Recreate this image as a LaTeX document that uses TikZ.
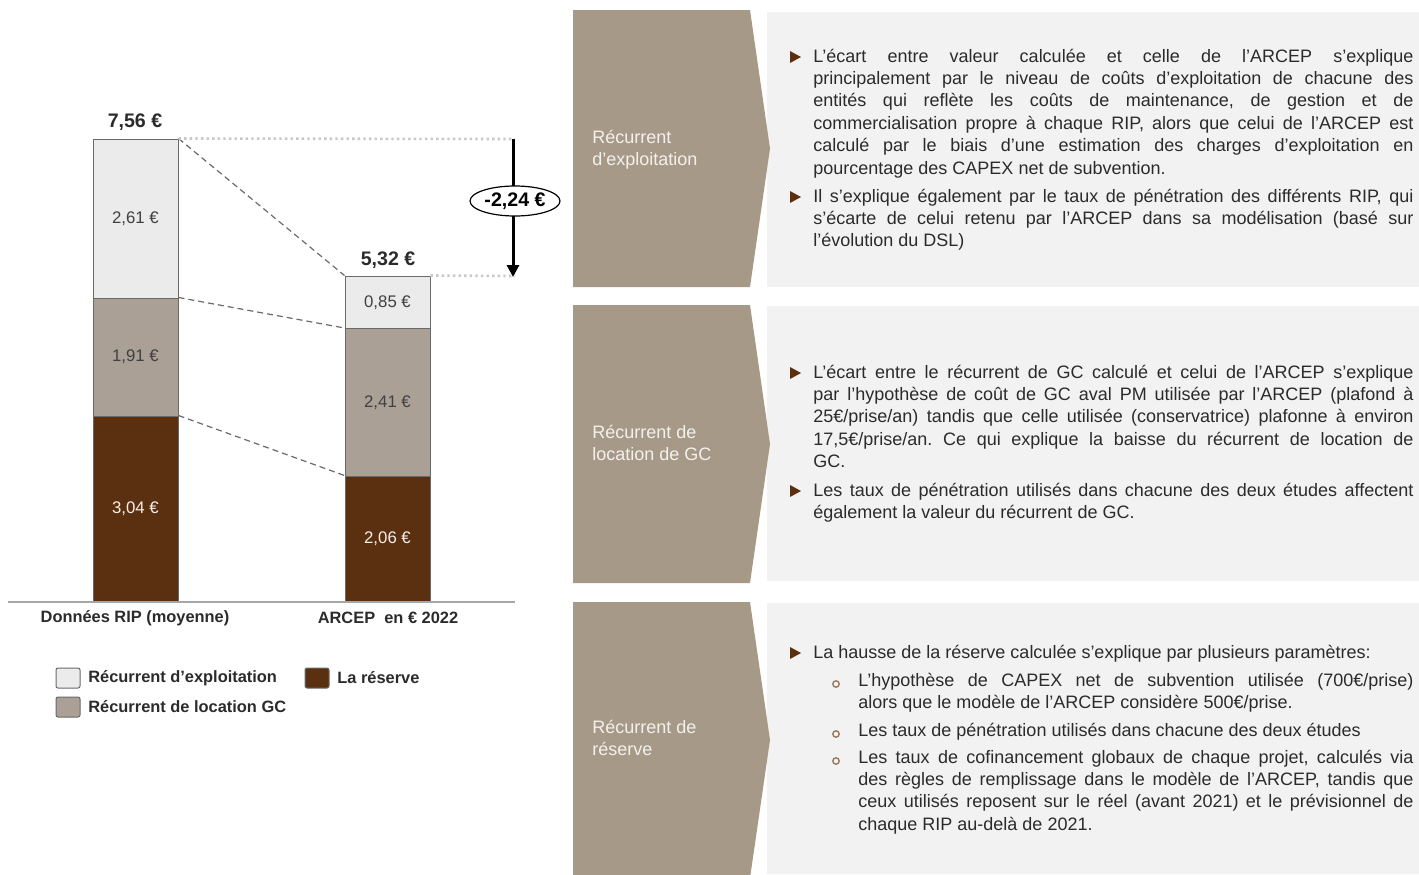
\documentclass[tikz,border=0pt]{standalone}
\usepackage{fontspec}
\setmainfont{Liberation Sans}
\usetikzlibrary{arrows.meta,shapes.geometric}
\frenchspacing
\definecolor{lightseg}{HTML}{EBEBEB}
\definecolor{taupe}{HTML}{ABA096}
\definecolor{chev}{HTML}{A69988}
\definecolor{brownres}{HTML}{5A3010}
\definecolor{boxbg}{HTML}{F2F2F2}
\definecolor{txt}{HTML}{2B2B2B}
\definecolor{segtxt}{HTML}{404040}
\definecolor{chevtxt}{HTML}{F4F1EC}
\definecolor{segborder}{HTML}{6A6A6A}
\definecolor{dotgray}{HTML}{C8C8C8}
\definecolor{axisgray}{HTML}{A6A6A6}
\definecolor{subbul}{HTML}{9A7A5E}
\newcommand{\jl}[1]{\hbox to \hsize{#1}}
\newcommand{\nl}[1]{\hbox{#1}}
\newcommand{\blk}[2]{\vtop{\hsize=#1\relax #2}}
\begin{document}
\begin{tikzpicture}[x=0.5pt,y=-0.5pt,
  seg/.style={draw=segborder, line width=0.5pt, minimum width=42.5pt, inner sep=0pt, text=segtxt, font=\fontsize{8.4}{10}\selectfont},
  total/.style={inner sep=0pt, text=txt, font=\bfseries\fontsize{9.8}{12}\selectfont},
  cat/.style={inner sep=0pt, text=txt, font=\bfseries\fontsize{8.2}{10}\selectfont},
  legbox/.style={draw=segborder, line width=0.5pt, rounded corners=1pt, minimum width=12pt, minimum height=10pt, inner sep=0pt},
  legtxt/.style={anchor=west, inner sep=0pt, text=txt, font=\bfseries\fontsize{8.2}{10}\selectfont},
  dashline/.style={draw=segborder, line width=0.6pt, dash pattern=on 3pt off 2pt},
  dotline/.style={draw=dotgray, line width=1.3pt, dash pattern=on 1.2pt off 1.6pt},
  chevtext/.style={anchor=base west, inner sep=0pt, text=chevtxt, font=\fontsize{9}{11}\selectfont},
  bodytxt/.style={anchor=base west, inner sep=0pt, text=txt, font=\fontsize{9}{11.2}\selectfont},
  bul/.style={fill=brownres},
  subbullet/.style={draw=subbul, line width=0.7pt}
]
\useasboundingbox (0,0) rectangle (1419,874);
\fill[white] (0,0) rectangle (1419,874);

% ---------- right side: text boxes and chevrons
\fill[boxbg] (767,12) rectangle (1419,287);
\fill[boxbg] (767,306) rectangle (1419,581);
\fill[boxbg] (767,603) rectangle (1419,874);

\fill[chev] (573,10) -- (750,10) -- (770,148.5) -- (750,287) -- (573,287) -- cycle;
\fill[chev] (573,305) -- (750,305) -- (770,444) -- (750,583) -- (573,583) -- cycle;
\fill[chev] (573,602) -- (750,602) -- (770,740) -- (750,878) -- (573,878) -- cycle;

\node[chevtext] (h1) at (592,143) {\blk{100pt}{\nl{Récurrent}\nl{d'exploitation}}};
\node[chevtext] (h2) at (592,438) {\blk{100pt}{\nl{Récurrent de}\nl{location de GC}}};
\node[chevtext] (h3) at (592,733) {\blk{100pt}{\nl{Récurrent de}\nl{réserve}}};

% bullets
\foreach \c in {57,197,373,491,653} {
  \fill[bul] (790,\c-6) -- (801,\c) -- (790,\c+6) -- cycle;
}
\foreach \c in {684,734,761} {
  \draw[subbullet] (836,\c) circle[radius=1.6pt];
}

% box 1
\node[bodytxt] (p11) at (813,62) {\blk{300pt}{%
\jl{L'écart entre valeur calculée et celle de l'ARCEP s'explique}%
\jl{principalement par le niveau de coûts d'exploitation de chacune des}%
\jl{entités qui reflète les coûts de maintenance, de gestion et de}%
\jl{commercialisation propre à chaque RIP, alors que celui de l'ARCEP est}%
\jl{calculé par le biais d'une estimation des charges d'exploitation en}%
\nl{pourcentage des CAPEX net de subvention.}}};
\node[bodytxt] (p12) at (813,202) {\blk{300pt}{%
\jl{Il s'explique également par le taux de pénétration des différents RIP, qui}%
\jl{s'écarte de celui retenu par l'ARCEP dans sa modélisation (basé sur}%
\nl{l'évolution du DSL)}}};

% box 2
\node[bodytxt] (p21) at (813,378) {\blk{300pt}{%
\jl{L'écart entre le récurrent de GC calculé et celui de l'ARCEP s'explique}%
\jl{par l'hypothèse de coût de GC aval PM utilisée par l'ARCEP (plafond à}%
\jl{25€/prise/an) tandis que celle utilisée (conservatrice) plafonne à environ}%
\jl{17,5€/prise/an. Ce qui explique la baisse du récurrent de location de}%
\nl{GC.}}};
\node[bodytxt] (p22) at (813,496) {\blk{300pt}{%
\jl{Les taux de pénétration utilisés dans chacune des deux études affectent}%
\nl{également la valeur du récurrent de GC.}}};

% box 3
\node[bodytxt] (p31) at (813,658) {La hausse de la réserve calculée s'explique par plusieurs paramètres:};
\node[bodytxt] (p32) at (858,686) {\blk{277.5pt}{%
\jl{L'hypothèse de CAPEX net de subvention utilisée (700€/prise)}%
\nl{alors que le modèle de l'ARCEP considère 500€/prise.}}};
\node[bodytxt] (p33) at (858,736) {Les taux de pénétration utilisés dans chacune des deux études};
\node[bodytxt] (p34) at (858,763) {\blk{277.5pt}{%
\jl{Les taux de cofinancement globaux de chaque projet, calculés via}%
\jl{des règles de remplissage dans le modèle de l'ARCEP, tandis que}%
\jl{ceux utilisés reposent sur le réel (avant 2021) et le prévisionnel de}%
\nl{chaque RIP au-delà de 2021.}}};

% ---------- chart
\node[seg, fill=lightseg, minimum height=79.5pt] (l1) at (135.5,218.5) {2,61 €};
\node[seg, fill=taupe, minimum height=59pt] (l2) at (135.5,357) {1,91 €};
\node[seg, fill=brownres, text=chevtxt, minimum height=93pt] (l3) at (135.5,509) {3,04 €};
\node[seg, fill=lightseg, minimum height=26.25pt] (r1) at (387.5,302.25) {0,85 €};
\node[seg, fill=taupe, minimum height=73.75pt] (r2) at (387.5,402.25) {2,41 €};
\node[seg, fill=brownres, text=chevtxt, minimum height=63pt] (r3) at (387.5,539) {2,06 €};

\draw[dashline] (l1.north east) -- (r1.north west);
\draw[dashline] (l2.north east) -- (r2.north west);
\draw[dashline] (l3.north east) -- (r3.north west);

\coordinate (d1) at (515,139);
\coordinate (d2) at (515,276);
\draw[dotline] (l1.north east) -- (d1);
\draw[dotline] (r1.north east) -- (d2);

\coordinate (a1) at (513,139);
\coordinate (a2) at (513,277);
\draw[line width=1.5pt, -{Triangle[width=6pt,length=6pt]}] (a1) -- (a2);
\node[ellipse, draw, fill=white, line width=0.6pt, minimum width=45pt, minimum height=15pt, inner sep=0pt, font=\bfseries\fontsize{9.8}{12}\selectfont] (diff) at (515,201) {-2,24 €};

\coordinate (ax1) at (8,602);
\coordinate (ax2) at (515,602);
\draw[draw=axisgray, line width=1pt] (ax1) -- (ax2);

\node[total] (t1) at (135,122) {7,56 €};
\node[total] (t2) at (388,260) {5,32 €};

\node[cat] (c1) at (135,618) {Données RIP (moyenne)};
\node[cat] (c2) at (388,618) {ARCEP\ \ en € 2022};

% legend
\node[legbox, fill=lightseg] (k1) at (68,678) {};
\node[legtxt] (k1t) at (88,678) {Récurrent d'exploitation};
\node[legbox, fill=brownres] (k2) at (317,678) {};
\node[legtxt] (k2t) at (337,678) {La réserve};
\node[legbox, fill=taupe] (k3) at (68,707) {};
\node[legtxt] (k3t) at (88,707) {Récurrent de location GC};
\end{tikzpicture}
\end{document}
